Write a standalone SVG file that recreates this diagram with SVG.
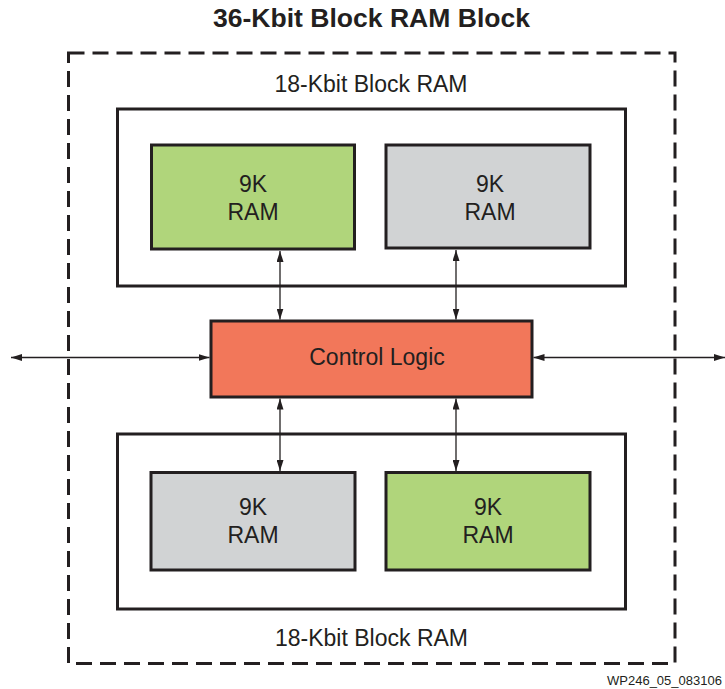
<svg xmlns="http://www.w3.org/2000/svg" width="725" height="689" viewBox="0 0 725 689">
<style>
text{font-family:"Liberation Sans",Arial,sans-serif;fill:#231f20}
.lbl{font-size:23px;text-anchor:middle}
.box{stroke:#231f20;stroke-width:3}
.frame{fill:none;stroke:#231f20;stroke-width:3}
.conn{stroke:#231f20;stroke-width:1.3;fill:none;marker-start:url(#ah);marker-end:url(#ah)}
</style>
<defs>
<marker id="ah" markerUnits="userSpaceOnUse" markerWidth="11" markerHeight="7" refX="11" refY="3.5" orient="auto-start-reverse">
<path d="M0,0 L11,3.5 L0,7 z" fill="#231f20"/>
</marker>
</defs>
<rect width="725" height="689" fill="#ffffff"/>
<text x="371.5" y="27" font-size="25" font-weight="bold" text-anchor="middle" textLength="317" lengthAdjust="spacingAndGlyphs">36-Kbit Block RAM Block</text>
<g id="outer">
<rect x="68.5" y="53" width="606.5" height="610.5" fill="none" stroke="#231f20" stroke-width="3" stroke-dasharray="16 8"/>
</g>
<g id="upper-18k">
<rect class="frame" x="117.5" y="109" width="508" height="177"/>
<text class="lbl" x="371" y="92">18-Kbit Block RAM</text>
</g>
<g id="lower-18k">
<rect class="frame" x="117.5" y="434" width="508" height="175"/>
<text class="lbl" x="371.5" y="646">18-Kbit Block RAM</text>
</g>
<g id="ram-ul">
<rect class="box" x="151.5" y="145" width="203" height="104" fill="#b0d57b"/>
<text class="lbl" x="253" y="192">9K</text>
<text class="lbl" x="253" y="220">RAM</text>
</g>
<g id="ram-ur">
<rect class="box" x="386" y="145" width="204" height="103" fill="#d1d3d4"/>
<text class="lbl" x="490" y="192">9K</text>
<text class="lbl" x="490" y="220">RAM</text>
</g>
<g id="control">
<rect class="box" x="211" y="321" width="321" height="76" fill="#f2775a"/>
<text class="lbl" x="377" y="365">Control Logic</text>
</g>
<g id="ram-ll">
<rect class="box" x="151" y="472.5" width="204" height="97.5" fill="#d1d3d4"/>
<text class="lbl" x="253" y="515">9K</text>
<text class="lbl" x="253" y="543">RAM</text>
</g>
<g id="ram-lr">
<rect class="box" x="386" y="472.5" width="204" height="97.5" fill="#b0d57b"/>
<text class="lbl" x="488" y="515">9K</text>
<text class="lbl" x="488" y="543">RAM</text>
</g>
<g id="connectors">
<line class="conn" x1="280" y1="251" x2="280" y2="319.5"/>
<line class="conn" x1="456" y1="250" x2="456" y2="319.5"/>
<line class="conn" x1="280" y1="398.5" x2="280" y2="471"/>
<line class="conn" x1="456" y1="398.5" x2="456" y2="471"/>
<line class="conn" x1="11" y1="357.5" x2="209.5" y2="357.5"/>
<line class="conn" x1="533.5" y1="357.5" x2="725" y2="357.5"/>
</g>
<text x="607" y="685" font-size="13">WP246_05_083106</text>
</svg>
